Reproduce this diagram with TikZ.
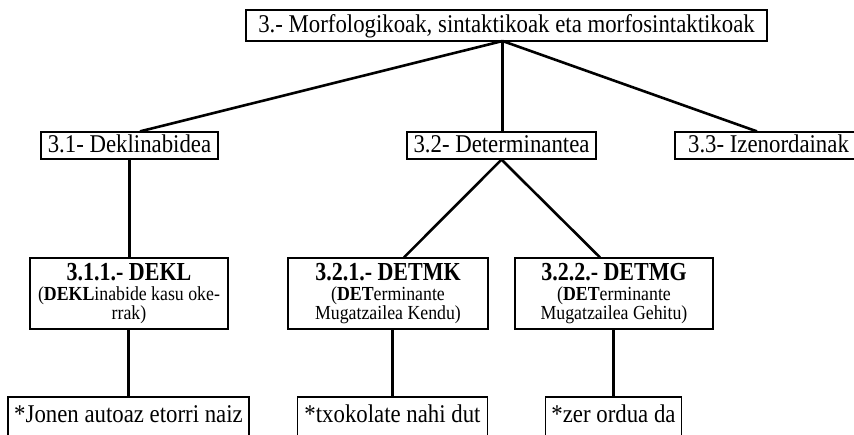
\documentclass[tikz,border=0pt]{standalone}
\usepackage{graphicx}
\usepackage{fontspec}
\setmainfont{Liberation Serif}
\newcommand\tallA[1]{\scalebox{1}[1.12]{#1}}
\newcommand\tallB[1]{\scalebox{1}[1.18]{#1}}
\begin{document}
\begin{tikzpicture}[x=1pt,y=-1pt,
  box/.style={draw, line width=1.2pt, inner sep=0pt},
  conn/.style={line width=2.6pt},
  lvl/.style={font=\fontsize{22.8}{27}\selectfont, anchor=base, inner sep=0pt},
  ttl/.style={font=\bfseries\fontsize{22}{26}\selectfont, anchor=base, inner sep=0pt},
  sub/.style={font=\fontsize{17.8}{20}\selectfont, anchor=base, inner sep=0pt},
]
\useasboundingbox (0,0) rectangle (854,435);
\clip (0,0) rectangle (854,435);

% boxes
\node[box, minimum width=521pt, minimum height=31pt] (top) at (506.5,25.5) {};
\node[box, minimum width=177pt, minimum height=27pt] (b31) at (129.5,145.5) {};
\node[box, minimum width=189pt, minimum height=27pt] (b32) at (501.5,145.5) {};
\node[box, minimum width=187pt, minimum height=27pt] (b33) at (768.5,145.5) {};
\node[box, minimum width=198pt, minimum height=71pt] (b311) at (129,293.5) {};
\node[box, minimum width=200pt, minimum height=71pt] (b321) at (388,293.5) {};
\node[box, minimum width=198pt, minimum height=71pt] (b322) at (614,293.5) {};
\node[box, minimum width=241pt, minimum height=53pt] (b41) at (128.5,423.5) {};
\node[box, minimum width=190pt, minimum height=53pt] (b42) at (392.5,423.5) {};
\node[box, minimum width=136pt, minimum height=53pt] (b43) at (613.5,423.5) {};

% texts
\node[lvl] (ttop) at (506.5,33) {\tallA{3.- Morfologikoak, sintaktikoak eta morfosintaktikoak}};
\node[lvl] (t31) at (129.5,153) {\tallA{3.1- Deklinabidea}};
\node[lvl] (t32) at (501.5,153) {\tallA{3.2- Determinantea}};
\node[lvl] (t33) at (768.5,153) {\tallA{3.3- Izenordainak}};

\node[ttl] (t311a) at (129,281) {\tallB{3.1.1.- DEKL}};
\node[sub] (t311b) at (129,301) {\tallA{(\textbf{DEKL}inabide kasu oke-}};
\node[sub] (t311c) at (129,320) {\tallA{rrak)}};
\node[ttl] (t321a) at (388,281) {\tallB{3.2.1.- DETMK}};
\node[sub] (t321b) at (388,301) {\tallA{(\textbf{DET}erminante}};
\node[sub] (t321c) at (388,320) {\tallA{Mugatzailea Kendu)}};
\node[ttl] (t322a) at (614,281) {\tallB{3.2.2.- DETMG}};
\node[sub] (t322b) at (614,301) {\tallA{(\textbf{DET}erminante}};
\node[sub] (t322c) at (614,320) {\tallA{Mugatzailea Gehitu)}};

\node[lvl] (t41) at (128.5,422) {\tallA{*Jonen autoaz etorri naiz}};
\node[lvl] (t42) at (392.5,422) {\tallA{*txokolate nahi dut}};
\node[lvl] (t43) at (613.5,422) {\tallA{*zer ordua da}};

% connectors
\coordinate (apex) at (502.5,41);
\draw[conn] (apex) -- ([xshift=10.5pt]b31.north);
\draw[conn] (apex) -- (apex |- b32.north);
\draw[conn] (apex) -- ([xshift=-11.5pt]b33.north);
\draw[conn] (b31.south) -- (b31.south |- b311.north);
\draw[conn] (b32.south) -- ([xshift=16pt]b321.north);
\draw[conn] (b32.south) -- ([xshift=-14pt]b322.north);
\draw[conn] (b41.north) -- (b41.north |- b311.south);
\draw[conn] (b42.north) -- (b42.north |- b321.south);
\draw[conn] (b43.north) -- (b43.north |- b322.south);
\end{tikzpicture}
\end{document}
